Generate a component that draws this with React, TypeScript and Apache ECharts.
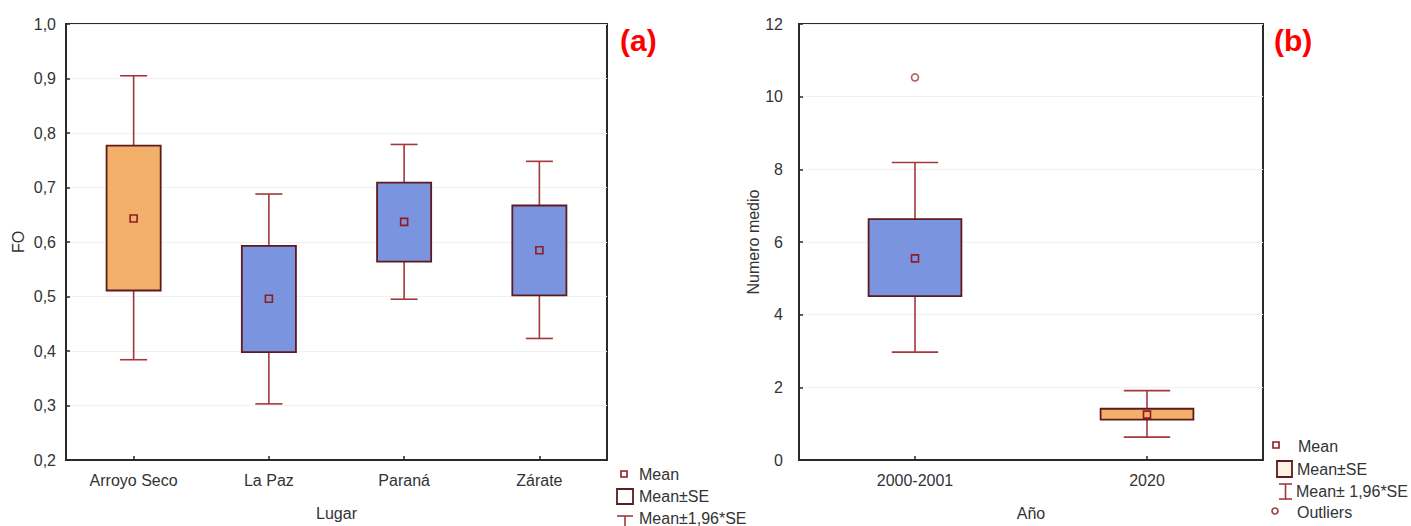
import React, { useEffect, useRef } from "react";
import * as echarts from "echarts";

// ---- Data ----
const placeCats = ["Arroyo Seco", "La Paz", "Paraná", "Zárate"];
const placeMean = [0.643, 0.496, 0.637, 0.585];
const placeSeLow = [0.511, 0.398, 0.564, 0.502];
const placeSeHigh = [0.777, 0.593, 0.709, 0.667];
const placeCiLow = [0.384, 0.303, 0.495, 0.423];
const placeCiHigh = [0.905, 0.688, 0.779, 0.748];
const placeFillKind = ["orange", "blue", "blue", "blue"];

const yearCats = ["2000-2001", "2020"];
const yearMean = [5.55, 1.25];
const yearSeLow = [4.51, 1.11];
const yearSeHigh = [6.63, 1.41];
const yearCiLow = [2.97, 0.63];
const yearCiHigh = [8.19, 1.91];
const yearFillKind = ["blue", "orange"];
const yearOutliers: [number, number][] = [[0, 10.53]];

const placeTicks = [0.2, 1.0, 0.1];
const yearTicks = [0, 12, 2];

// ---- Styles ----
const FILLS: Record<string, string> = { orange: "#F2B06A", blue: "#7B94E0" };
const BORDER = "#5E1A1C";
const WHISK = "#A3383C";
const MEANC = "#8E1C20";
const AXIS = "#2a2a2a";
const TXT = "#333333";
const FONT = "Liberation Sans, Arial, sans-serif";

function rows(mean: number[], lo: number[], hi: number[], cl: number[], ch: number[]) {
  return mean.map((m, i) => [i, cl[i], lo[i], m, hi[i], ch[i]]);
}

function renderBox(fills: string[]) {
  return (params: any, api: any) => {
    const x = api.value(0);
    const cWL = api.coord([x, api.value(1)]);
    const cx = cWL[0];
    const yWL = cWL[1];
    const yBL = api.coord([x, api.value(2)])[1];
    const yM = api.coord([x, api.value(3)])[1];
    const yBH = api.coord([x, api.value(4)])[1];
    const yWH = api.coord([x, api.value(5)])[1];
    const band = api.size([1, 0])[0];
    const bw = band * 0.4;
    const cw = band * 0.2;
    const fill = fills[params.dataIndex];
    const ws = { stroke: WHISK, lineWidth: 1.6 };
    return {
      type: "group",
      children: [
        { type: "line", shape: { x1: cx, y1: yWL, x2: cx, y2: yWH }, style: ws },
        { type: "line", shape: { x1: cx - cw / 2, y1: yWH, x2: cx + cw / 2, y2: yWH }, style: ws },
        { type: "line", shape: { x1: cx - cw / 2, y1: yWL, x2: cx + cw / 2, y2: yWL }, style: ws },
        {
          type: "rect",
          shape: { x: cx - bw / 2, y: yBH, width: bw, height: yBL - yBH },
          style: { fill, stroke: BORDER, lineWidth: 1.8 },
        },
        {
          type: "rect",
          shape: { x: cx - 3.5, y: yM - 3.5, width: 7, height: 7 },
          style: { fill, stroke: MEANC, lineWidth: 1.6 },
        },
      ],
    };
  };
}

function catAxis(gridIndex: number, data: string[], name: string) {
  return {
    type: "category",
    gridIndex,
    data,
    name,
    nameLocation: "middle",
    nameGap: 45,
    nameTextStyle: { color: TXT, fontSize: 16, fontFamily: FONT },
    axisLine: { show: true, lineStyle: { color: AXIS, width: 2 } },
    axisTick: { show: true, inside: true, alignWithLabel: true, length: 4, lineStyle: { color: AXIS, width: 1.5 } },
    axisLabel: { color: TXT, fontSize: 16, fontFamily: FONT, margin: 12 },
    splitLine: { show: false },
  };
}

function valAxis(gridIndex: number, t: number[], name: string, gap: number, margin: number, fmt: (v: number) => string) {
  return {
    type: "value",
    gridIndex,
    min: t[0],
    max: t[1],
    interval: t[2],
    name,
    nameLocation: "middle",
    nameGap: gap,
    nameTextStyle: { color: TXT, fontSize: 16, fontFamily: FONT },
    axisLine: { show: true, lineStyle: { color: AXIS, width: 2 } },
    axisTick: { show: true, inside: true, length: 4, lineStyle: { color: AXIS, width: 1.5 } },
    axisLabel: { color: TXT, fontSize: 16, fontFamily: FONT, margin, formatter: fmt },
    splitLine: { show: true, lineStyle: { color: "#f1f1f1", width: 1 } },
  };
}

function legendText(x: number, y: number, text: string) {
  return {
    type: "text",
    x,
    y,
    style: { text, fill: TXT, fontSize: 16, fontFamily: FONT, verticalAlign: "middle", align: "left" },
  };
}

export default function App() {
  const ref = useRef<HTMLDivElement>(null);
  useEffect(() => {
    if (!ref.current) return;
    const chart = echarts.init(ref.current, null, { renderer: "svg" });
    const option: any = {
      animation: false,
      backgroundColor: "#ffffff",
      grid: [
        { left: 66, top: 24, width: 541, height: 442, show: true, borderColor: AXIS, borderWidth: 2, backgroundColor: "transparent" },
        { left: 799, top: 24, width: 464, height: 442, show: true, borderColor: AXIS, borderWidth: 2, backgroundColor: "transparent" },
      ],
      xAxis: [catAxis(0, placeCats, "Lugar"), catAxis(1, yearCats, "Año")],
      yAxis: [
        valAxis(0, placeTicks, "FO", 40, 10, (v: number) => v.toFixed(1).replace(".", ",")),
        valAxis(1, yearTicks, "Numero medio", 31, 16, (v: number) => String(v)),
      ],
      series: [
        {
          type: "custom",
          xAxisIndex: 0,
          yAxisIndex: 0,
          renderItem: renderBox(placeFillKind.map((k) => FILLS[k])),
          encode: { x: 0, y: [1, 2, 3, 4, 5] },
          data: rows(placeMean, placeSeLow, placeSeHigh, placeCiLow, placeCiHigh),
          z: 3,
        },
        {
          type: "custom",
          xAxisIndex: 1,
          yAxisIndex: 1,
          renderItem: renderBox(yearFillKind.map((k) => FILLS[k])),
          encode: { x: 0, y: [1, 2, 3, 4, 5] },
          data: rows(yearMean, yearSeLow, yearSeHigh, yearCiLow, yearCiHigh),
          z: 3,
        },
        {
          type: "scatter",
          xAxisIndex: 1,
          yAxisIndex: 1,
          symbol: "circle",
          symbolSize: 7,
          itemStyle: { color: "#ffffff", borderColor: WHISK, borderWidth: 1.6 },
          data: yearOutliers,
          z: 4,
        },
      ],
      graphic: [
        { type: "text", x: 620, y: 40, style: { text: "(a)", fill: "#FF0000", fontSize: 30, fontWeight: "bold", fontFamily: FONT, verticalAlign: "middle" } },
        { type: "text", x: 1274, y: 40, style: { text: "(b)", fill: "#FF0000", fontSize: 30, fontWeight: "bold", fontFamily: FONT, verticalAlign: "middle" } },
        // legend (a)
        { type: "rect", shape: { x: 621, y: 471, width: 6, height: 6 }, style: { fill: "#fff", stroke: MEANC, lineWidth: 1.6 } },
        legendText(639, 474, "Mean"),
        { type: "rect", shape: { x: 617, y: 489, width: 16, height: 15 }, style: { fill: "#fff", stroke: BORDER, lineWidth: 1.8 } },
        legendText(639, 496, "Mean±SE"),
        { type: "line", shape: { x1: 617, y1: 516, x2: 633, y2: 516 }, style: { stroke: WHISK, lineWidth: 1.6 } },
        { type: "line", shape: { x1: 625, y1: 516, x2: 625, y2: 527 }, style: { stroke: WHISK, lineWidth: 1.6 } },
        legendText(639, 518, "Mean±1,96*SE"),
        // legend (b)
        { type: "rect", shape: { x: 1273, y: 442, width: 6, height: 6 }, style: { fill: "#fff", stroke: MEANC, lineWidth: 1.6 } },
        legendText(1298, 446, "Mean"),
        { type: "rect", shape: { x: 1277, y: 461, width: 15, height: 16 }, style: { fill: "#FDF2E2", stroke: BORDER, lineWidth: 1.8 } },
        legendText(1297, 469, "Mean±SE"),
        { type: "line", shape: { x1: 1279, y1: 484, x2: 1292, y2: 484 }, style: { stroke: WHISK, lineWidth: 1.6 } },
        { type: "line", shape: { x1: 1285.5, y1: 484, x2: 1285.5, y2: 499 }, style: { stroke: WHISK, lineWidth: 1.6 } },
        { type: "line", shape: { x1: 1279, y1: 499, x2: 1292, y2: 499 }, style: { stroke: WHISK, lineWidth: 1.6 } },
        legendText(1296, 491, "Mean± 1,96*SE"),
        { type: "circle", shape: { cx: 1275, cy: 511, r: 3 }, style: { fill: "#fff", stroke: WHISK, lineWidth: 1.6 } },
        legendText(1297, 512, "Outliers"),
      ],
    };
    chart.setOption(option);
    return () => chart.dispose();
  }, []);
  return (
    <div
      ref={ref}
      style={{ position: "fixed", left: 0, top: 0, width: 1411, height: 526, background: "#fff" }}
    />
  );
}
